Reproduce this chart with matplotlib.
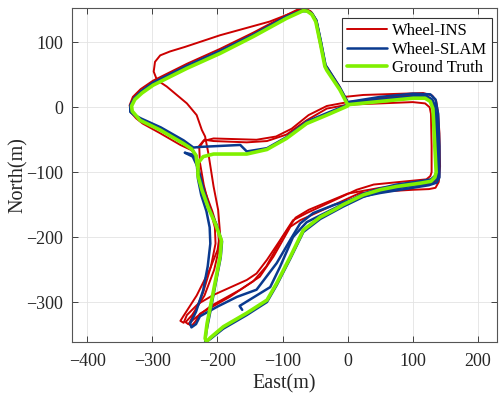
import matplotlib
import matplotlib.pyplot as plt
import numpy as np
matplotlib.use('agg')

# trajectory laps, (East, North) in metres
gt_lap = [
    (0, 2), (-32, -12), (-63, -25), (-94, -48), (-124, -65), (-155, -72), (-206, -72),
    (-222, -76), (-230, -86), (-230, -105), (-224, -127), (-214, -155), (-203, -180),
    (-194, -205), (-196, -230), (-206, -282), (-216, -333), (-219, -356), (-217, -361),
    (-211, -355), (-191, -338), (-155, -317), (-124, -297), (-109, -271), (-88, -230),
    (-68, -189), (-42, -169), (-17, -156), (-7, -150), (24, -135), (50, -127), (75, -122),
    (111, -117), (128, -114), (134, -108), (136, -100), (134, -61), (132, -20), (131, -2),
    (127, 9), (119, 14), (101, 14), (50, 9), (0, 4), (-12, 27), (-32, 57), (-35, 63),
    (-42, 99), (-49, 132), (-55, 143), (-62, 148), (-68, 149), (-94, 137), (-145, 109),
    (-196, 83), (-247, 60), (-299, 34), (-316, 22), (-327, 12), (-332, 2), (-331, -6),
    (-325, -13), (-319, -20), (-288, -35), (-252, -56), (-240, -64), (-233, -74), (-231, -90),
]

slam_lap1 = [
    (-162, -312), (-166, -306), (-119, -277), (-104, -246), (-84, -200), (-63, -177),
    (-27, -159), (-5, -148), (24, -133), (50, -125), (75, -119), (111, -114), (128, -111),
    (135, -105), (137, -98), (136, -61), (134, -20), (133, -2), (129, 10), (121, 16),
    (101, 17), (50, 12), (0, 6), (-12, 28), (-31, 58), (-34, 64), (-41, 100), (-48, 133),
    (-54, 143), (-62, 148), (-70, 148), (-94, 139), (-145, 111), (-196, 86), (-247, 63),
    (-299, 37), (-316, 25), (-327, 14), (-333, 3), (-333, -7), (-327, -12), (-318, -17),
    (-287, -31), (-252, -51), (-237, -62), (-226, -61), (-165, -58), (-155, -68),
    (-124, -63), (-94, -46), (-63, -22), (-32, -9), (0, 4), (50, 10), (101, 16), (122, 17),
    (130, 12), (134, 3), (137, -20), (139, -61), (140, -100), (137, -110), (130, -115),
    (111, -119), (75, -125), (50, -130), (24, -138), (-7, -153), (-42, -172), (-68, -192),
    (-88, -233), (-109, -274), (-124, -300), (-155, -320), (-191, -341), (-211, -357),
    (-219, -362), (-217, -345), (-212, -320), (-205, -283), (-195, -231), (-193, -207),
    (-201, -182), (-212, -157), (-220, -132), (-226, -108), (-230, -93), (-238, -76),
    (-250, -70),
]

slam_lap2 = [
    (-250, -70), (-238, -73), (-232, -85), (-230, -110), (-225, -135), (-217, -160),
    (-212, -185), (-211, -210), (-215, -245), (-222, -282), (-233, -315), (-242, -333),
    (-240, -339), (-233, -334), (-227, -322), (-200, -307), (-170, -292), (-140, -281),
    (-109, -240), (-88, -204), (-73, -179), (-53, -163), (-20, -150), (20, -138),
    (50, -132), (100, -124), (125, -120), (137, -116), (141, -108), (141, -60), (139, -10),
    (135, 12), (127, 20), (100, 21), (50, 16), (0, 8), (-11, 29), (-30, 59), (-34, 65),
    (-41, 101), (-48, 134), (-55, 145), (-63, 149), (-71, 149), (-94, 140), (-145, 112),
    (-196, 87), (-247, 64), (-299, 38), (-317, 25), (-328, 14), (-334, 3), (-334, -7),
    (-328, -12), (-317, -19), (-288, -33), (-252, -53), (-238, -65), (-233, -78),
]

wins_lap1 = [
    (-1, 11), (-12, 30), (-31, 60), (-35, 66), (-41, 100), (-48, 134), (-55, 146),
    (-64, 151), (-74, 150), (-120, 132), (-196, 111), (-250, 93), (-273, 86), (-288, 80),
    (-296, 70), (-298, 55), (-293, 42), (-278, 32), (-247, 6), (-232, -12), (-224, -35),
    (-219, -45), (-214, -71), (-206, -122), (-199, -158), (-196, -195), (-200, -220),
    (-212, -250), (-232, -290), (-250, -318), (-257, -329), (-252, -332), (-247, -320),
    (-230, -303), (-206, -289), (-155, -266), (-140, -256), (-124, -235), (-104, -205),
    (-84, -174), (-63, -163), (14, -127), (40, -119), (80, -115), (121, -111), (127, -106),
    (129, -100), (129, -60), (128, -10), (126, 0), (119, 6), (100, 8), (50, 6), (0, 4),
    (-32, -2), (-63, -20), (-94, -42), (-124, -52), (-155, -54), (-206, -52), (-220, -50),
]

wins_lap2 = [
    (-220, -50), (-228, -62), (-227, -85), (-221, -120), (-212, -155), (-204, -185),
    (-203, -210), (-210, -245), (-222, -285), (-236, -318), (-244, -334), (-240, -337),
    (-234, -330), (-227, -318), (-181, -292), (-150, -271), (-135, -261), (-114, -230),
    (-88, -184), (-73, -174), (19, -132), (50, -130), (101, -127), (125, -126), (135, -124),
    (140, -115), (142, -91), (141, -40), (139, -9), (136, 10), (130, 18), (116, 22),
    (24, 19), (-5, 16), (-13, 33), (-32, 62), (-36, 68), (-43, 100), (-50, 136), (-57, 148),
    (-66, 152), (-76, 151), (-94, 142), (-145, 115), (-196, 90), (-247, 67), (-299, 41),
    (-318, 28), (-330, 16), (-335, 3), (-333, -8), (-325, -17), (-315, -25), (-288, -40),
    (-257, -58), (-240, -66), (-232, -75),
]

wins_lap3 = [
    (-232, -75), (-228, -100), (-219, -130), (-208, -160), (-199, -190), (-197, -215),
    (-205, -250), (-220, -290), (-239, -320), (-249, -331), (-245, -334), (-236, -326),
    (-210, -306), (-165, -281), (-145, -268), (-125, -245), (-100, -200), (-80, -170),
    (-60, -158), (0, -133), (50, -124), (100, -120), (130, -118), (136, -113), (138, -95),
    (136, -40), (134, -5), (130, 10), (122, 17), (100, 19), (50, 14), (0, 8), (-32, 2),
    (-60, -12), (-86, -33), (-110, -45), (-140, -50), (-206, -48), (-222, -52), (-230, -62),
]

x_ticks = [-400, -300, -200, -100, 0, 100, 200]
y_ticks = [-300, -200, -100, 0, 100]

plt.rcParams['font.family'] = ['Liberation Serif', 'DejaVu Serif']

fig = plt.figure(figsize=(5.01, 3.97), dpi=100)
ax = fig.add_axes([0.1431, 0.1378, 0.8483, 0.8413])

series = [
    ("Wheel-INS", "#cc0000", 1.4, [wins_lap1, wins_lap2, wins_lap3]),
    ("Wheel-SLAM", "#0a3a8f", 1.8, [slam_lap1, slam_lap2]),
    ("Ground Truth", "#80f000", 2.6, [gt_lap]),
]
for label, col, lw, laps in series:
    for i, lap in enumerate(laps):
        pts = np.asarray(lap, dtype=float)
        ax.plot(pts[:, 0], pts[:, 1], color=col, lw=lw,
                solid_joinstyle='round', solid_capstyle='round',
                label=label if i == 0 else None)

ax.set_xlim(-424, 229)
ax.set_ylim(-362, 152.5)
ax.set_xticks(x_ticks)
ax.set_yticks(y_ticks)
ax.grid(True, color='#e3e3e3', lw=0.6)
ax.set_axisbelow(True)
ax.tick_params(direction='in', top=True, right=True, length=4, width=0.6,
               labelsize=13, colors='#262626')
ax.tick_params(axis='x', pad=8)
ax.tick_params(axis='y', pad=6)
for sp in ax.spines.values():
    sp.set_color('#555555')
    sp.set_linewidth(0.8)
ax.set_xlabel("East(m)", fontsize=14.5, color='#262626', labelpad=3)
ax.set_ylabel("North(m)", fontsize=14.5, color='#262626', labelpad=-1)

leg = ax.legend(loc='upper right', bbox_to_anchor=(492.3 / 501, 1 - 18.3 / 397),
                bbox_transform=fig.transFigure, borderaxespad=0, fontsize=12,
                handlelength=2.4, labelspacing=0.15, handletextpad=0.3,
                borderpad=0.3, fancybox=False, framealpha=1)
leg.get_frame().set_edgecolor('#333333')
leg.get_frame().set_linewidth(0.8)

fig.savefig("out.png", dpi=100)
